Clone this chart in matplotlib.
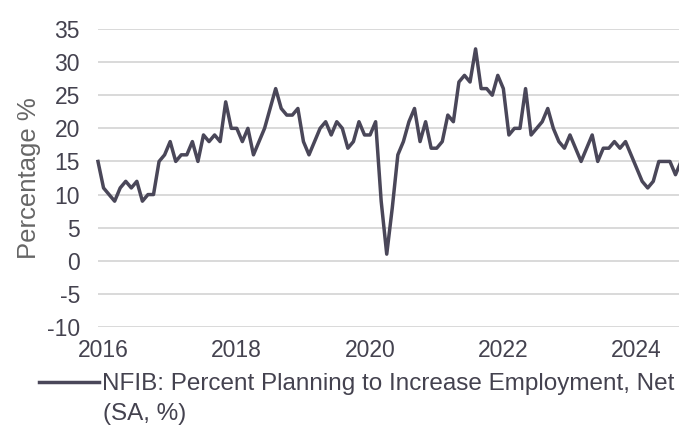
import matplotlib
matplotlib.use('Agg')
import numpy as np
import matplotlib.pyplot as plt

# NFIB hiring plans, monthly from Dec 2015 to Sep 2024
start_year = 2015
start_month = 12
hiring_plans = [
    15,                                              # Dec 2015
    11, 10, 9, 11, 12, 11, 12, 9, 10, 10, 15, 16,    # 2016
    18, 15, 16, 16, 18, 15, 19, 18, 19, 18, 24, 20,  # 2017
    20, 18, 20, 16, 18, 20, 23, 26, 23, 22, 22, 23,  # 2018
    18, 16, 18, 20, 21, 19, 21, 20, 17, 18, 21, 19,  # 2019
    19, 21, 9, 1, 8, 16, 18, 21, 23, 18, 21, 17,     # 2020
    17, 18, 22, 21, 27, 28, 27, 32, 26, 26, 25, 28,  # 2021
    26, 19, 20, 20, 26, 19, 20, 21, 23, 20, 18, 17,  # 2022
    19, 17, 15, 17, 19, 15, 17, 17, 18, 17, 18, 16,  # 2023
    14, 12, 11, 12, 15, 15, 15, 13, 15,             # 2024
]
series_label = "NFIB: Percent Planning to Increase Employment, Net"
series_note = "(SA, %)"
year_ticks = [2016, 2018, 2020, 2022, 2024]
y_ticks = list(range(-10, 36, 5))

months = np.arange(len(hiring_plans))
dates = start_year + (start_month - 1 + months) / 12.0

plt.rcParams['font.family'] = ['Liberation Sans', 'DejaVu Sans']
plt.rcParams['axes.unicode_minus'] = False
text_col = '#44424f'
line_col = '#4a4759'

fig = plt.figure(figsize=(6.79, 4.26), dpi=100)
ax = fig.add_axes([0.1443, 0.2324, 0.8587, 0.6995])

ax.plot(dates, hiring_plans, color=line_col, lw=2.5, label=series_label,
        solid_joinstyle='round', clip_on=False)

ax.set_xlim(dates[0], dates[-1])
ax.set_ylim(-10, 35)
ax.set_xticks(year_ticks)
ax.set_xticklabels([str(y) for y in year_ticks])
ax.set_yticks(y_ticks)
ax.grid(axis='y', color='#d9d9d9', lw=1.4)
ax.set_axisbelow(True)
for s in ax.spines.values():
    s.set_visible(False)
ax.tick_params(axis='both', length=0, labelsize=16.5, colors=text_col)
ax.tick_params(axis='y', pad=13)
ax.tick_params(axis='x', pad=9)
ax.set_ylabel("Percentage %", fontsize=18.5, color='#666666', labelpad=4)

leg = ax.legend(loc='upper left', bbox_to_anchor=(0.058, 0.124),
                bbox_transform=fig.transFigure, frameon=False, fontsize=17.5,
                handlelength=2.45, handletextpad=0.12, borderpad=0, borderaxespad=0)
for t in leg.get_texts():
    t.set_color(text_col)
fig.text(0.152, 0.003, series_note, fontsize=17.5, color=text_col, va='bottom', ha='left')

fig.savefig('out.png', dpi=100)
